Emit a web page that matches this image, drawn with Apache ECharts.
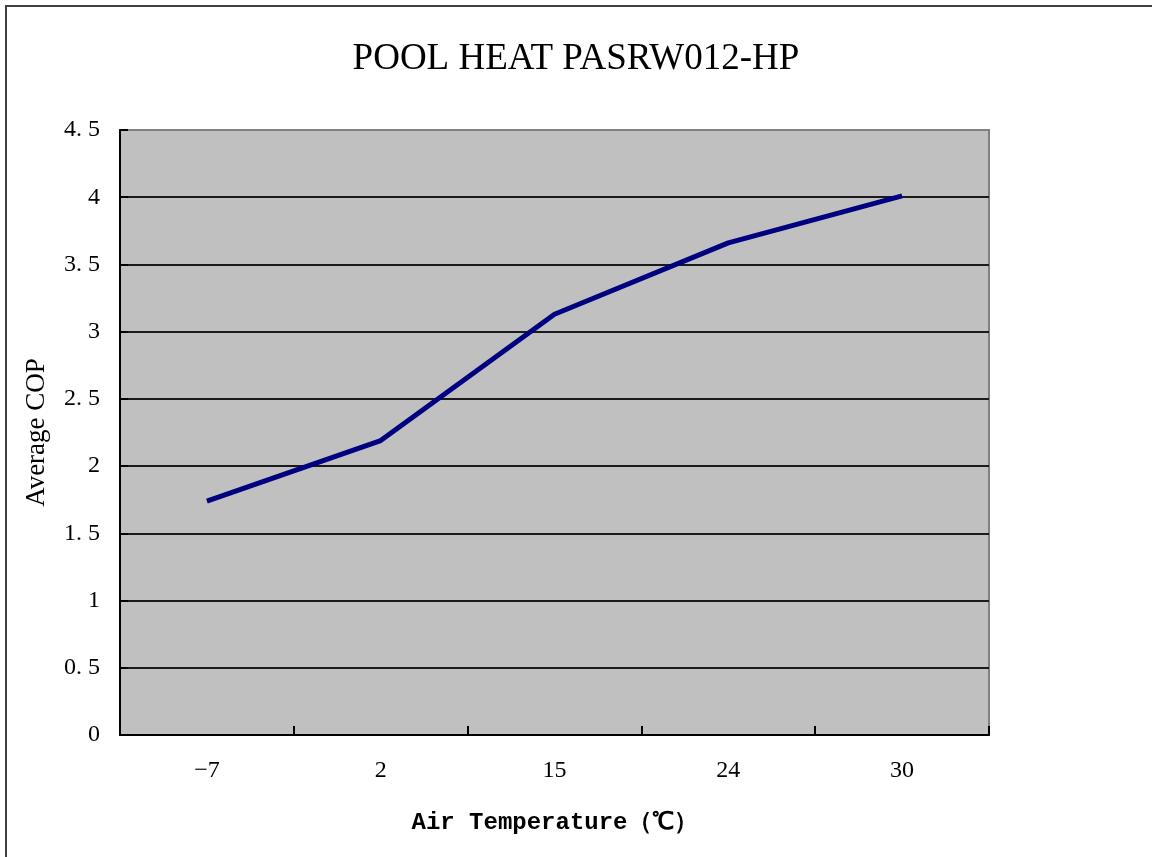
<!DOCTYPE html>
<html>
<head>
<meta charset="utf-8">
<title>POOL HEAT PASRW012-HP</title>
<script src="https://cdn.jsdelivr.net/npm/echarts@6/dist/echarts.min.js"></script>
<style>
  html, body { margin: 0; padding: 0; background: #fff; }
  #chart { width: 1152px; height: 857px; }
</style>
</head>
<body>
<div id="chart"></div>
<script>
// 数据
var titleText = 'POOL HEAT PASRW012-HP';
var airTemps = ['-7', '2', '15', '24', '30'];
var avgCop = [1.74, 2.19, 3.13, 3.66, 4.01];
var yMin = 0, yMax = 4.5, yStep = 0.5;

var myChart = echarts.init(document.getElementById('chart'));

var option = {
  backgroundColor: '#fff',
  animation: false,
  title: {
    text: titleText,
    left: 'center',
    top: 36,
    textStyle: {
      fontFamily: 'Liberation Serif',
      fontWeight: 'normal',
      fontSize: 37,
      color: '#000'
    }
  },
  // 外框
  graphic: [{
    type: 'rect',
    shape: { x: 6, y: 6, width: 1170, height: 880 },
    style: { fill: 'none', stroke: '#404040', lineWidth: 2 },
    silent: true
  }],
  grid: {
    left: 120,
    right: 163,
    top: 130,
    bottom: 122,
    show: true,
    backgroundColor: '#c0c0c0',
    borderColor: '#808080',
    borderWidth: 2
  },
  xAxis: {
    type: 'category',
    data: airTemps,
    boundaryGap: true,
    name: 'Air Temperature（℃）',
    nameLocation: 'middle',
    nameGap: 76,
    nameTextStyle: {
      fontFamily: 'Liberation Mono',
      fontWeight: 'bold',
      fontSize: 24,
      color: '#000'
    },
    axisLine: { show: true, lineStyle: { color: '#000', width: 2 } },
    axisTick: { show: true, interval: 0, inside: true, length: 9, lineStyle: { color: '#000', width: 2 } },
    axisLabel: {
      margin: 24,
      fontFamily: 'Liberation Serif',
      fontSize: 24,
      color: '#000',
      formatter: function(v) { return v.replace('-', '−'); }
    },
    splitLine: { show: false }
  },
  yAxis: {
    type: 'value',
    min: yMin,
    max: yMax,
    interval: yStep,
    name: 'Average COP',
    nameLocation: 'middle',
    nameGap: 70,
    nameTextStyle: {
      fontFamily: 'Liberation Serif',
      fontSize: 27,
      color: '#000'
    },
    axisLine: { show: true, lineStyle: { color: '#000', width: 2 } },
    axisTick: { show: true, inside: true, length: 8, lineStyle: { color: '#000', width: 2 } },
    axisLabel: {
      margin: 20,
      fontFamily: 'Liberation Serif',
      fontSize: 24,
      color: '#000',
      formatter: function(v) { return String(v).replace('.', '. '); }
    },
    splitLine: {
      show: true,
      showMaxLine: false,
      lineStyle: { color: '#1a1a1a', width: 2 }
    }
  },
  series: [{
    type: 'line',
    data: avgCop,
    symbol: 'none',
    lineStyle: { color: '#000080', width: 5 },
    itemStyle: { color: '#000080' }
  }]
};

myChart.setOption(option);
</script>
</body>
</html>
